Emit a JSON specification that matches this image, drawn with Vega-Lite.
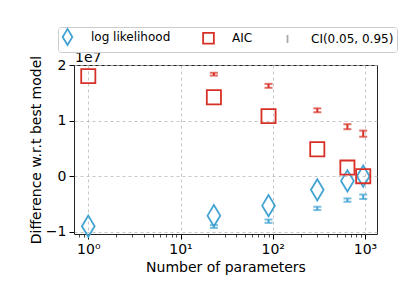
{
  "$schema": "https://vega.github.io/schema/vega-lite/v6.json",
  "width": 303,
  "height": 169,
  "autosize": {"type": "none"},
  "padding": {"left": 74, "top": 65, "right": 30, "bottom": 57},
  "background": "white",
  "config": {
    "font": "DejaVu Sans",
    "view": {"stroke": "#222222", "strokeWidth": 1},
    "axis": {
      "domain": false,
      "tickColor": "black",
      "tickSize": 5,
      "tickWidth": 1,
      "labelFontSize": 14,
      "labelColor": "black",
      "labelPadding": 3,
      "labelFlush": false,
      "labelOverlap": false,
      "titleFontSize": 14,
      "titleFontWeight": "normal",
      "titleColor": "black",
      "gridColor": "#b8b8b8",
      "gridDash": [3, 3],
      "gridWidth": 0.8
    },
    "legend": {
      "orient": "none",
      "legendX": -16,
      "legendY": -38,
      "direction": "horizontal",
      "fillColor": "white",
      "strokeColor": "#cccccc",
      "cornerRadius": 3,
      "padding": 3,
      "labelFontSize": 12,
      "labelColor": "black",
      "symbolSize": 115,
      "symbolStrokeWidth": 1.8,
      "columnPadding": 28,
      "labelOffset": 17
    }
  },
  "data": {
    "values": [
      {"n": 1, "series": "log likelihood", "value": -9000000, "lo": null, "hi": null},
      {"n": 23, "series": "log likelihood", "value": -7100000, "lo": -9300000, "hi": -8800000},
      {"n": 90, "series": "log likelihood", "value": -5300000, "lo": -8400000, "hi": -7800000},
      {"n": 304, "series": "log likelihood", "value": -2450000, "lo": -6100000, "hi": -5500000},
      {"n": 645, "series": "log likelihood", "value": -850000, "lo": -4600000, "hi": -4000000},
      {"n": 957, "series": "log likelihood", "value": 0, "lo": -4100000, "hi": -3300000},
      {"n": 1, "series": "AIC", "value": 18000000, "lo": null, "hi": null},
      {"n": 23, "series": "AIC", "value": 14200000, "lo": 18100000, "hi": 18600000},
      {"n": 90, "series": "AIC", "value": 10800000, "lo": 15900000, "hi": 16600000},
      {"n": 304, "series": "AIC", "value": 4850000, "lo": 11500000, "hi": 12200000},
      {"n": 645, "series": "AIC", "value": 1550000, "lo": 8450000, "hi": 9350000},
      {"n": 957, "series": "AIC", "value": 0, "lo": 7100000, "hi": 8200000}
    ]
  },
  "layer": [
    {
      "mark": {"type": "point", "filled": false, "size": 200, "strokeWidth": 1.8, "opacity": 1},
      "encoding": {
        "x": {"field": "n", "type": "quantitative", "scale": {"type": "log", "domain": [0.7, 1350], "nice": false},
          "axis": {"orient": "bottom", "values": [0.8, 0.9, 1, 2, 3, 4, 5, 6, 7, 8, 9, 10, 20, 30, 40, 50, 60, 70, 80, 90, 100, 200, 300, 400, 500, 600, 700, 800, 900, 1000],
            "grid": true, "title": "Number of parameters", "titlePadding": 4,
            "tickSize": {"condition": {"test": "abs(log(datum.value)/LN10 - round(log(datum.value)/LN10)) < 0.001", "value": 5}, "value": 3},
            "tickWidth": {"condition": {"test": "abs(log(datum.value)/LN10 - round(log(datum.value)/LN10)) < 0.001", "value": 1}, "value": 0.7},
            "gridOpacity": {"condition": {"test": "abs(log(datum.value)/LN10 - round(log(datum.value)/LN10)) < 0.001", "value": 1}, "value": 0},
            "labelExpr": "datum.value == 1 ? '10⁰' : datum.value == 10 ? '10¹' : datum.value == 100 ? '10²' : datum.value == 1000 ? '10³' : ''"}},
        "y": {"field": "value", "type": "quantitative", "scale": {"domain": [-10400000, 20000000], "nice": false, "zero": false},
          "axis": {"orient": "left", "values": [-10000000, 0, 10000000, 20000000], "grid": true, "title": "Difference w.r.t best model", "titlePadding": 2,
            "labelExpr": "format(datum.value / 10000000, 'd')"}},
        "color": {"field": "series", "type": "nominal", "title": null,
          "scale": {"domain": ["log likelihood", "AIC", "CI(0.05, 0.95)"], "range": ["#43a3d3", "#d73027", "#aaaaaa"]}},
        "shape": {"field": "series", "type": "nominal", "title": null,
          "scale": {"domain": ["log likelihood", "AIC", "CI(0.05, 0.95)"], "range": ["M0,-1.5L0.9,0L0,1.5L-0.9,0Z", "square", "M0,-0.75L0,0.75"]}}
      }
    },
    {
      "mark": {"type": "rule", "strokeWidth": 2},
      "encoding": {
        "x": {"field": "n", "type": "quantitative"},
        "y": {"field": "lo", "type": "quantitative"},
        "y2": {"field": "hi"},
        "stroke": {"field": "series", "type": "nominal", "legend": null,
          "scale": {"domain": ["log likelihood", "AIC"], "range": ["#43a3d3", "#d73027"]}}
      }
    },
    {
      "mark": {"type": "tick", "orient": "horizontal", "size": 8, "thickness": 2},
      "encoding": {
        "x": {"field": "n", "type": "quantitative"},
        "y": {"field": "lo", "type": "quantitative"},
        "fill": {"field": "series", "type": "nominal", "legend": null,
          "scale": {"domain": ["log likelihood", "AIC"], "range": ["#43a3d3", "#d73027"]}}
      }
    },
    {
      "mark": {"type": "tick", "orient": "horizontal", "size": 8, "thickness": 2},
      "encoding": {
        "x": {"field": "n", "type": "quantitative"},
        "y": {"field": "hi", "type": "quantitative"},
        "fill": {"field": "series", "type": "nominal", "legend": null,
          "scale": {"domain": ["log likelihood", "AIC"], "range": ["#43a3d3", "#d73027"]}}
      }
    },
    {
      "data": {"values": [{"label": "1e7", "px": 0.7, "py": 20000000}]},
      "mark": {"type": "text", "align": "left", "baseline": "alphabetic", "dx": 1, "dy": -3, "fontSize": 14, "color": "black"},
      "encoding": {
        "x": {"field": "px", "type": "quantitative"},
        "y": {"field": "py", "type": "quantitative"},
        "text": {"field": "label"}
      }
    }
  ]
}
